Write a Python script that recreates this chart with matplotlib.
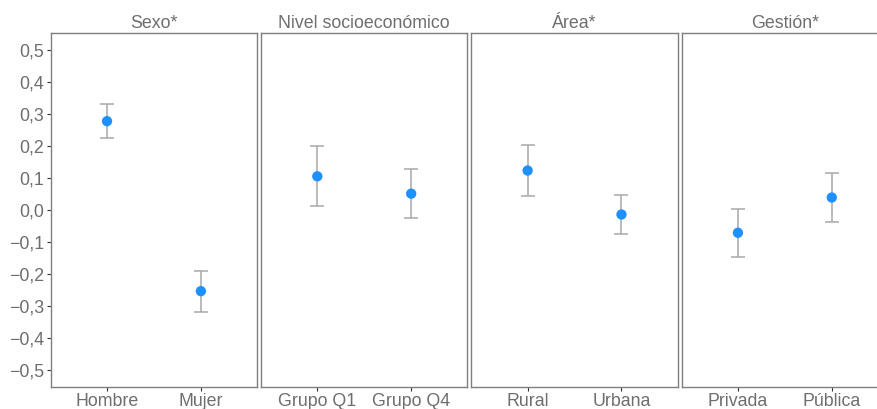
import matplotlib
matplotlib.use("Agg")
import matplotlib.pyplot as plt

plt.rcParams['font.family'] = ['Liberation Sans', 'DejaVu Sans']

# estimates with 95% intervals, one panel per variable
panels = ["Sexo*", "Nivel socioeconómico", "Área*", "Gestión*"]
groups = [["Hombre", "Mujer"],
          ["Grupo Q1", "Grupo Q4"],
          ["Rural", "Urbana"],
          ["Privada", "Pública"]]
estimate = [[0.277, -0.253],
            [0.105, 0.051],
            [0.123, -0.014],
            [-0.071, 0.039]]
ci_low = [[0.224, -0.317],
          [0.011, -0.026],
          [0.044, -0.075],
          [-0.148, -0.038]]
ci_high = [[0.330, -0.189],
           [0.200, 0.127],
           [0.203, 0.048],
           [0.004, 0.116]]
yticks = [-0.5, -0.4, -0.3, -0.2, -0.1, 0.0, 0.1, 0.2, 0.3, 0.4, 0.5]

W, H = 878, 409
fig = plt.figure(figsize=(W / 100, H / 100), dpi=100)

text_col = "#6e6e6e"
frame_col = "#7f7f7f"
point_col = "#1e90ff"
bar_col = "#a8a8a8"
fs = 12.8


def fmt(v):
    s = "%.1f" % abs(v)
    s = s.replace(".", ",")
    return ("\u2212" + s) if v < -1e-9 else s


for i, name in enumerate(panels):
    left = 50.7 + i * 210.3
    ax = fig.add_axes([left / W, (H - 386.7) / H, 206.5 / W, 353.4 / H])
    x = [1, 2]
    lo = [e - l for e, l in zip(estimate[i], ci_low[i])]
    hi = [h - e for e, h in zip(estimate[i], ci_high[i])]
    ax.errorbar(x, estimate[i], yerr=[lo, hi], fmt="none", ecolor=bar_col,
                elinewidth=1.1, capsize=5, capthick=1.1, zorder=2)
    ax.scatter(x, estimate[i], s=55, color=point_col, edgecolors="none", zorder=3)

    ax.set_xlim(0.4, 2.6)
    ax.set_ylim(-0.551, 0.551)
    ax.set_xticks(x)
    ax.set_xticklabels(groups[i])
    ax.set_yticks(yticks)
    if i == 0:
        ax.set_yticklabels([fmt(v) for v in yticks])
        ax.tick_params(axis="y", length=3, width=0.8, color="#333333",
                       labelsize=fs, labelcolor=text_col, pad=2)
    else:
        ax.tick_params(axis="y", left=False, labelleft=False)
    ax.tick_params(axis="x", length=3, width=0.8, color="#333333",
                   labelsize=fs, labelcolor=text_col, pad=1.5)
    for sp in ax.spines.values():
        sp.set_color(frame_col)
        sp.set_linewidth(1.0)
    ax.set_title(name, fontsize=fs, color=text_col, pad=4)

fig.savefig("out.png", dpi=100)
